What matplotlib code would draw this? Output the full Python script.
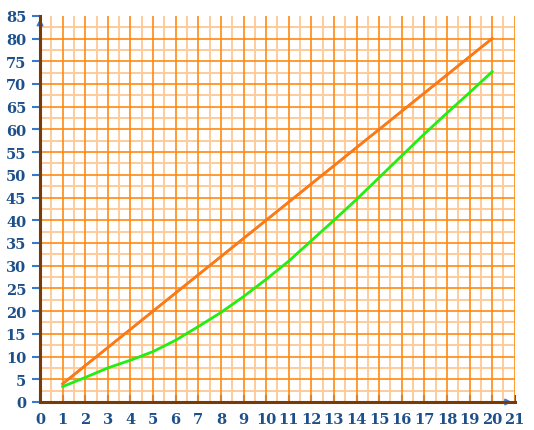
import matplotlib

matplotlib.use("Agg")
import matplotlib.pyplot as plt
import numpy as np

# data
x_vals = [1, 2, 3, 4, 5, 6, 7, 8, 9, 10, 11, 12, 13, 14, 15, 16, 17, 18, 19, 20]
straight = [4, 8, 12, 16, 20, 24, 28, 32, 36, 40, 44, 48, 52, 56, 60, 64, 68, 72, 76, 80]
curve = [3.4, 5.4, 7.5, 9.2, 11.1, 13.6, 16.6, 19.7, 23.2, 27.0, 31.0, 35.5,
         40.0, 44.6, 49.4, 54.2, 59.0, 63.6, 68.1, 72.7]
x_ticks = list(range(0, 22))
y_ticks = list(range(0, 90, 5))

AXIS_BROWN = "#7a3a05"
TICK_BLUE = "#3a78c9"
LABEL_BLUE = "#1d4f8a"

fig = plt.figure(figsize=(5.34, 4.31), dpi=100)
ax = fig.add_axes([0.075, 0.065, 0.889, 0.896])
ax.set_xlim(0, 21)
ax.set_ylim(0, 85)

# grid: light lines at halves, stronger at integers / multiples of 5
for v in np.arange(0.5, 21, 1.0):
    ax.axvline(v, color="#ffcb9c", lw=1.4, zorder=1)
for v in np.arange(2.5, 85, 5.0):
    ax.axhline(v, color="#ffcb9c", lw=1.4, zorder=1)
for v in range(1, 22):
    ax.axvline(v, color="#ff8a14", lw=1.2, zorder=2)
for v in range(5, 85, 5):
    ax.axhline(v, color="#ff8a14", lw=1.2, zorder=2)

ax.plot(x_vals, straight, color="#4a6fd0", lw=1.6, zorder=3)
ax.plot(x_vals, straight, color="#ff7a10", lw=2.0, zorder=4)
ax.plot(x_vals, curve, color="#22ee11", lw=2.0, zorder=4)

for s in ["top", "right"]:
    ax.spines[s].set_visible(False)
for s in ["left", "bottom"]:
    ax.spines[s].set_color(AXIS_BROWN)
    ax.spines[s].set_linewidth(2.2)
    ax.spines[s].set_zorder(6)

ax.set_xticks(x_ticks)
ax.set_yticks(y_ticks)
ax.tick_params(axis="y", direction="out", length=6, width=1.5, color=TICK_BLUE,
               labelcolor=LABEL_BLUE, labelsize=10.5, pad=4)
ax.tick_params(axis="x", direction="in", length=5, width=1.5, color="#2f5f9a",
               labelcolor=LABEL_BLUE, labelsize=10.5, pad=7)
for lab in ax.get_xticklabels() + ax.get_yticklabels():
    lab.set_fontfamily("DejaVu Serif")
    lab.set_fontweight("bold")

# axis arrows
ax.annotate("", xy=(0, 85), xytext=(0, 82.5),
            arrowprops=dict(arrowstyle="-|>", color=TICK_BLUE, lw=1), annotation_clip=False)
ax.annotate("", xy=(21, 0), xytext=(20.5, 0),
            arrowprops=dict(arrowstyle="-|>", color=TICK_BLUE, lw=1), annotation_clip=False)

fig.savefig("out.png", dpi=100)
